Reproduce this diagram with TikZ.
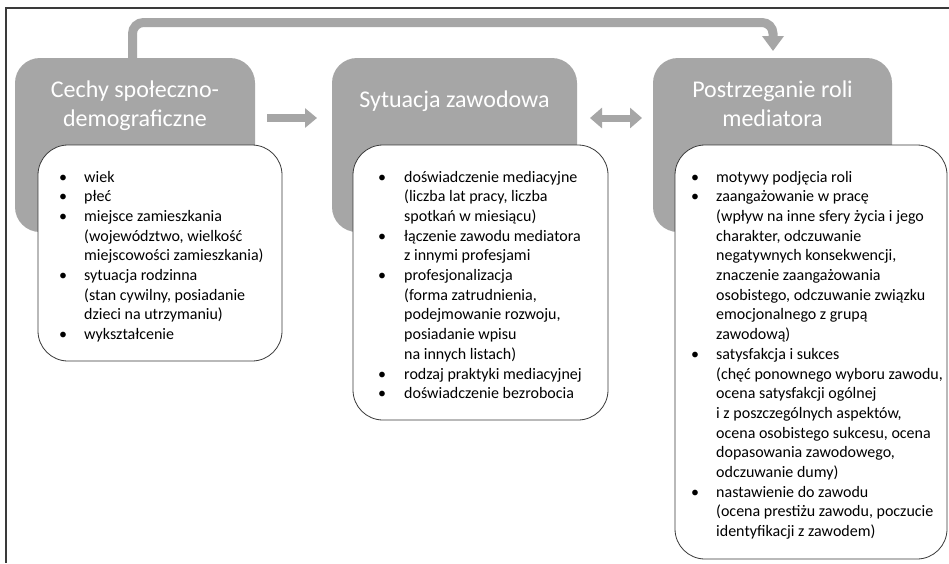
\documentclass[tikz,border=0pt]{standalone}
\usepackage{fontspec}
\setmainfont{Carlito}
\usetikzlibrary{arrows.meta}
\definecolor{hdr}{HTML}{A6A6A6}
\definecolor{frm}{HTML}{3A3A3A}
\begin{document}
\begin{tikzpicture}[x=1pt,y=-1pt,
  hdrbox/.style={fill=hdr, draw=none, rounded corners=25pt, minimum height=174pt, anchor=north west, inner sep=0pt, outer sep=0pt},
  listbox/.style={fill=white, draw=frm, line width=0.8pt, rounded corners=30pt, anchor=north west, inner sep=0pt, outer sep=0pt},
  titletext/.style={text=white, font=\fontsize{24}{29}\selectfont, anchor=base, inner sep=0pt},
  bodytext/.style={anchor=base west, inner sep=0pt, font=\fontsize{16}{19.7}\selectfont},
  fatarrow/.style={draw=hdr, line width=8pt, -{Triangle[length=12pt,width=19pt]}},
  dblarrow/.style={draw=hdr, line width=7pt, {Triangle[length=12pt,width=20pt]}-{Triangle[length=12pt,width=20pt]}},
  toparrow/.style={draw=hdr, line width=9pt, rounded corners=11pt, -{Triangle[length=15pt,width=21pt]}}
]
\useasboundingbox (0,0) rectangle (949,563);
\fill[white] (0,0) rectangle (949,563);
% frame
\draw[frm, line width=1.5pt] (949,8) -- (6,8) -- (6,563);

% header boxes
\node[hdrbox, minimum width=240pt] (H1) at (15,58) {};
\node[hdrbox, minimum width=245pt] (H2) at (332,58) {};
\node[hdrbox, minimum width=239pt] (H3) at (653,58) {};

% titles
\node[titletext] (T1) at (135,97) {\begin{tabular}[t]{@{}c@{}}Cechy społeczno-\\demograficzne\end{tabular}};
\node[titletext] (T2) at (454.5,107) {Sytuacja zawodowa};
\node[titletext] (T3) at (772.5,97) {\begin{tabular}[t]{@{}c@{}}Postrzeganie roli\\mediatora\end{tabular}};

% list boxes
\node[listbox, minimum width=244pt, minimum height=216pt] (L1) at (38,145) {};
\node[listbox, minimum width=255pt, minimum height=275pt] (L2) at (353,145) {};
\node[listbox, minimum width=272pt, minimum height=414pt] (L3) at (675,145) {};

% list texts
\node[bodytext] (B1) at (59,182) {\begin{tabular}[t]{@{}p{25pt}@{}l@{}}
\textbullet & wiek\\
\textbullet & płeć\\
\textbullet & miejsce zamieszkania\\
 & (województwo, wielkość\\
 & miejscowości zamieszkania)\\
\textbullet & sytuacja rodzinna\\
 & (stan cywilny, posiadanie\\
 & dzieci na utrzymaniu)\\
\textbullet & wykształcenie
\end{tabular}};

\node[bodytext] (B2) at (378,182) {\begin{tabular}[t]{@{}p{26pt}@{}l@{}}
\textbullet & doświadczenie mediacyjne\\
 & (liczba lat pracy, liczba\\
 & spotkań w miesiącu)\\
\textbullet & łączenie zawodu mediatora\\
 & z innymi profesjami\\
\textbullet & profesjonalizacja\\
 & (forma zatrudnienia,\\
 & podejmowanie rozwoju,\\
 & posiadanie wpisu\\
 & na innych listach)\\
\textbullet & rodzaj praktyki mediacyjnej\\
\textbullet & doświadczenie bezrobocia
\end{tabular}};

\node[bodytext] (B3) at (691,182) {\begin{tabular}[t]{@{}p{25pt}@{}l@{}}
\textbullet & motywy podjęcia roli\\
\textbullet & zaangażowanie w pracę\\
 & (wpływ na inne sfery życia i jego\\
 & charakter, odczuwanie\\
 & negatywnych konsekwencji,\\
 & znaczenie zaangażowania\\
 & osobistego, odczuwanie związku\\
 & emocjonalnego z grupą\\
 & zawodową)\\
\textbullet & satysfakcja i sukces\\
 & (chęć ponownego wyboru zawodu,\\
 & ocena satysfakcji ogólnej\\
 & i z poszczególnych aspektów,\\
 & ocena osobistego sukcesu, ocena\\
 & dopasowania zawodowego,\\
 & odczuwanie dumy)\\
\textbullet & nastawienie do zawodu\\
 & (ocena prestiżu zawodu, poczucie\\
 & identyfikacji z zawodem)
\end{tabular}};

% connectors
\draw[fatarrow] ([shift={(12pt,27pt)}]H1.east) -- ([shift={(-15pt,27pt)}]H2.west);
\draw[dblarrow] ([shift={(13pt,27pt)}]H2.east) -- ([shift={(-11pt,27pt)}]H3.west);
\draw[toparrow] ([xshift=-2.5pt]H1.north) -- ++(0,-35.5) -| ([xshift=0.5pt,yshift=7pt]H3.north);
\end{tikzpicture}
\end{document}
